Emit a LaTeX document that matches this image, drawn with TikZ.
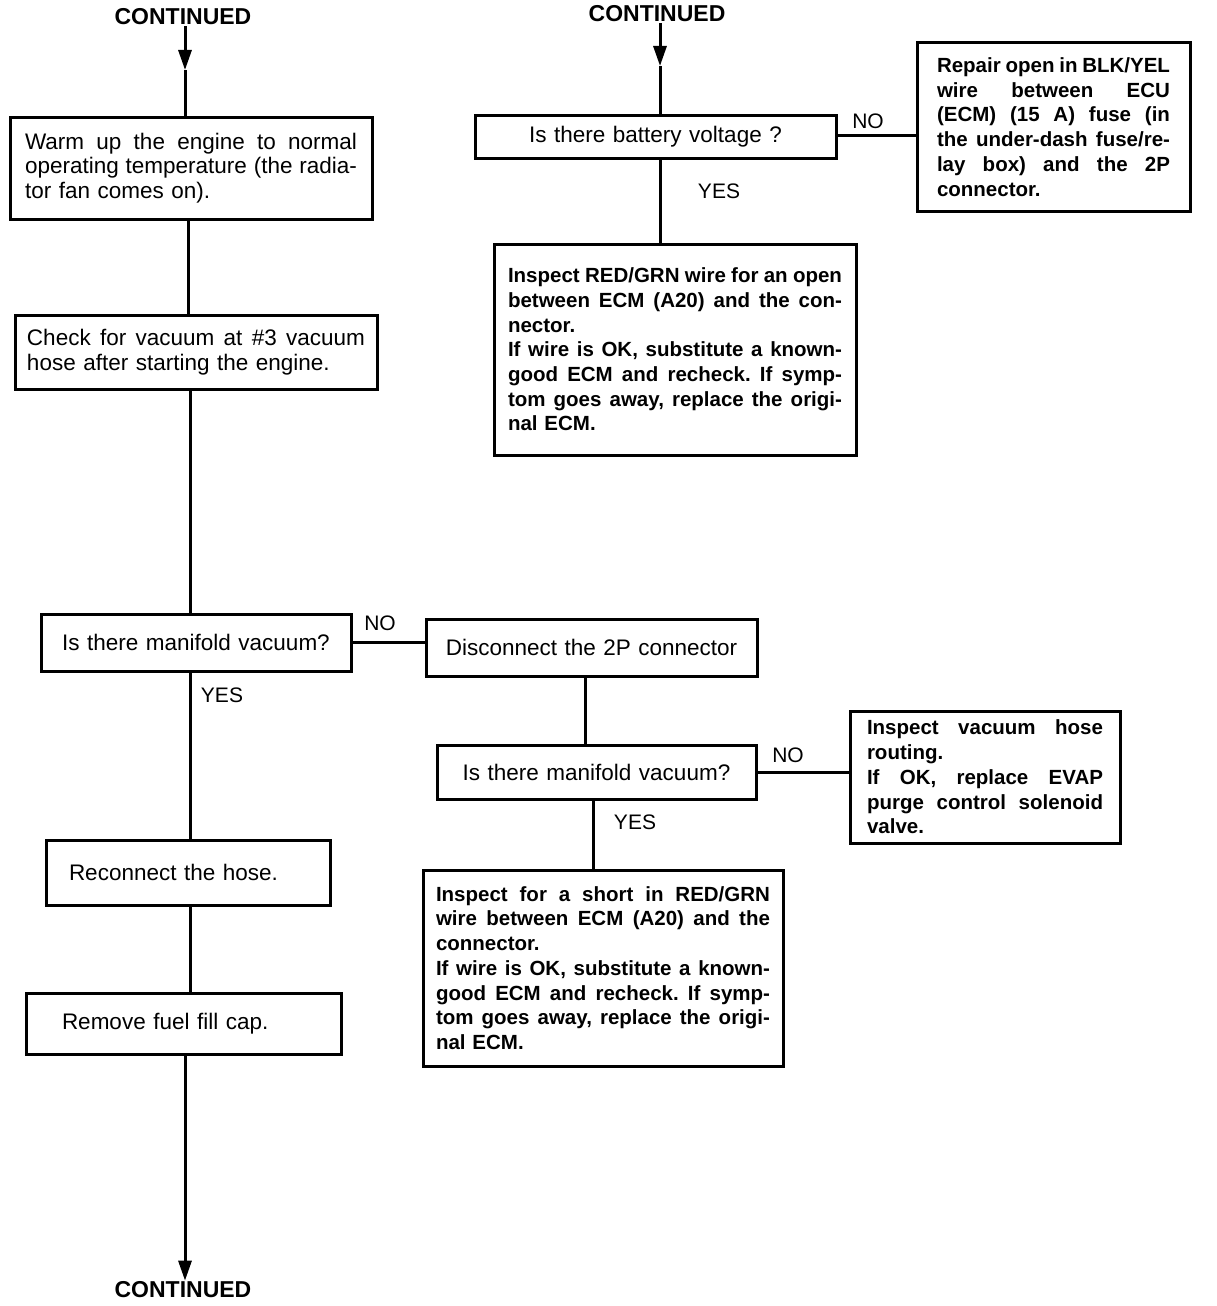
\documentclass[tikz,border=0pt]{standalone}
\usepackage{fontspec}
\setmainfont{Liberation Sans}
\usetikzlibrary{arrows.meta,calc}
\frenchspacing
\newcommand{\jl}[1]{\leavevmode\hbox to \hsize{\spaceskip=0pt\xspaceskip=0pt #1}\\}
\newcommand{\regf}{\fontsize{22.5}{24.5}\selectfont}
\newcommand{\bldf}{\fontsize{20.5}{24.7}\selectfont\bfseries}
\begin{document}
\begin{tikzpicture}[x=1pt,y=-1pt,
  box/.style={draw, line width=3pt, rectangle, anchor=north west, outer sep=0pt, inner ysep=0pt, align=left, font=\regf},
  bbox/.style={box, font=\bldf},
  ln/.style={line width=3pt},
  arr/.style={line width=3pt, -{Triangle[length=20pt,width=13pt]}},
  lbl/.style={font=\fontsize{21}{24}\selectfont, inner sep=0pt},
  cont/.style={font=\fontsize{23}{26}\selectfont\bfseries, inner sep=1pt}]
\useasboundingbox (0,0) rectangle (1216,1306);

% CONTINUED labels
\node[cont] (ctl) at (183,17) {CONTINUED};
\node[cont] (ctr) at (657,14) {CONTINUED};
\node[cont] (cbl) at (183,1290) {CONTINUED};

% left column
\node[box, text width=332pt, inner xsep=15pt, minimum height=102pt] (W) at (10,117)
  {\jl{Warm up the engine to normal}\jl{operating temperature (the radia-}tor fan comes on).};
\node[box, text width=338pt, inner xsep=12pt, minimum height=74pt] (C) at (15,315)
  {\jl{Check for vacuum at \#3 vacuum}hose after starting the engine.};
\node[box, align=center, text width=290pt, inner xsep=10pt, minimum height=57pt] (M1) at (41,614)
  {Is there manifold vacuum?};
\node[box, text width=238pt, inner xsep=23pt, minimum height=65pt] (R) at (46,840)
  {Reconnect the hose.};
\node[box, text width=243pt, inner xsep=36pt, minimum height=61pt] (F) at (26,993)
  {Remove fuel fill cap.};

% middle
\node[box, align=center, text width=311pt, inner xsep=10pt, minimum height=57pt] (D) at (426,619)
  {Disconnect the 2P connector};
\node[box, align=center, text width=299pt, inner xsep=10pt, minimum height=54pt] (M2) at (437,745)
  {Is there manifold vacuum?};
\node[bbox, text width=334pt, inner xsep=13pt, minimum height=196pt] (I2) at (423,870)
  {\jl{Inspect for a short in RED/GRN}\jl{wire between ECM (A20) and the}connector.\\
   \jl{If wire is OK, substitute a known-}\jl{good ECM and recheck. If symp-}\jl{tom goes away, replace the origi-}nal ECM.};
\node[bbox, text width=236pt, inner xsep=17pt, minimum height=132pt] (EV) at (850,711)
  {\jl{Inspect vacuum hose}routing.\\\jl{If OK, replace EVAP}\jl{purge control solenoid}valve.};

% top right
\node[box, align=center, text width=341pt, inner xsep=10pt, minimum height=43pt] (B) at (475,115)
  {Is there battery voltage ?};
\node[bbox, text width=233pt, inner xsep=20pt, minimum height=168pt] (Rep) at (917,43)
  {\jl{Repair open in BLK/YEL}\jl{wire between ECU}\jl{(ECM) (15 A) fuse (in}\jl{the under-dash fuse/re-}\jl{lay box) and the 2P}connector.};
\node[bbox, text width=334pt, inner xsep=14pt, minimum height=211pt] (I1) at (494,244)
  {\jl{Inspect RED/GRN wire for an open}\jl{between ECM (A20) and the con-}nector.\\
   \jl{If wire is OK, substitute a known-}\jl{good ECM and recheck. If symp-}\jl{tom goes away, replace the origi-}nal ECM.};

% x / y positions of connectors
\coordinate (xa) at (185,0);
\coordinate (xb) at (188,0);
\coordinate (xc) at (190,0);
\coordinate (xd) at (660,0);
\coordinate (xe) at (585,0);
\coordinate (xf) at (593,0);
\coordinate (yb) at (0,135);
\coordinate (t1) at (185,70);
\coordinate (t2) at (660,66);

% connectors
\draw[arr] (ctl.south -| xa) -- (t1);
\draw[ln] (t1) -- (W.north -| xa);
\draw[ln] (W.south -| xb) -- (C.north -| xb);
\draw[ln] (C.south -| xc) -- (M1.north -| xc);
\draw[ln] (M1.south -| xc) -- (R.north -| xc);
\draw[ln] (R.south -| xc) -- (F.north -| xc);
\draw[arr] (F.south -| xa) -- (cbl.north -| xa);
\draw[ln] (M1.east) -- (M1.east -| D.west);
\draw[ln] (D.south -| xe) -- (M2.north -| xe);
\draw[ln] (M2.east) -- (M2.east -| EV.west);
\draw[ln] (M2.south -| xf) -- (I2.north -| xf);
\draw[arr] (ctr.south -| xd) -- (t2);
\draw[ln] (t2) -- (B.north -| xd);
\draw[ln] (B.east |- yb) -- (Rep.west |- yb);
\draw[ln] (B.south -| xd) -- (I1.north -| xd);

% labels
\node[lbl] (no1) at (868,121) {NO};
\node[lbl] (yes1) at (719,191) {YES};
\node[lbl] (no2) at (380,623) {NO};
\node[lbl] (yes2) at (222,695) {YES};
\node[lbl] (no3) at (788,755) {NO};
\node[lbl] (yes3) at (635,822) {YES};
\end{tikzpicture}
\end{document}
